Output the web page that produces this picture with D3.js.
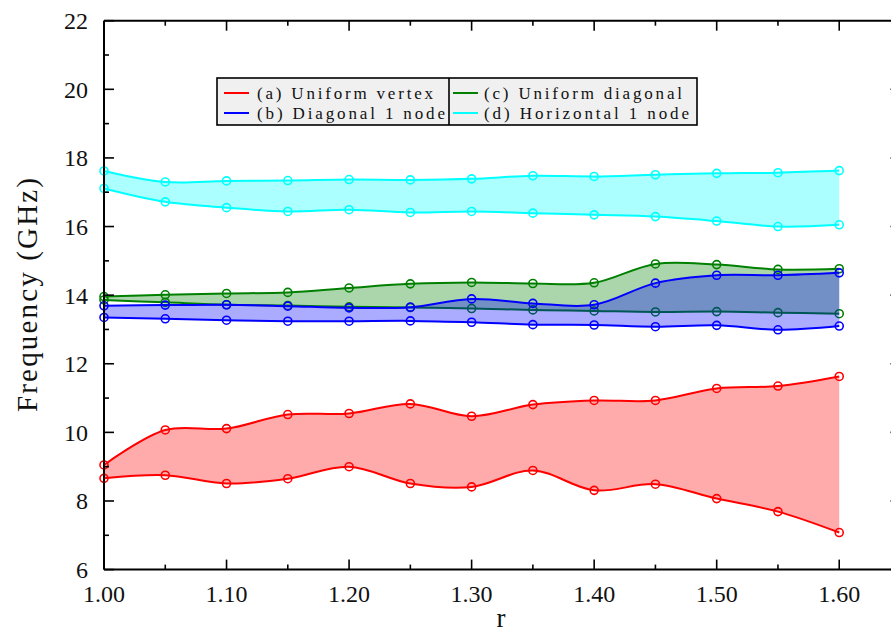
<!DOCTYPE html>
<html><head><meta charset="utf-8">
<script src="https://cdn.jsdelivr.net/npm/d3@7"></script>
<style>body{margin:0;background:#fff;overflow:hidden}svg{display:block}</style>
</head><body>
<script>
const rValues = [1.00,1.05,1.10,1.15,1.20,1.25,1.30,1.35,1.40,1.45,1.50,1.55,1.60];
const aUpper = [9.05,10.07,10.11,10.52,10.55,10.83,10.47,10.81,10.93,10.93,11.28,11.35,11.63];
const aLower = [8.66,8.75,8.51,8.65,9.00,8.51,8.41,8.89,8.31,8.49,8.07,7.69,7.08];
const cUpper = [13.96,14.01,14.05,14.08,14.21,14.33,14.37,14.34,14.36,14.91,14.89,14.75,14.77];
const cLower = [13.86,13.79,13.72,13.70,13.66,13.64,13.61,13.57,13.54,13.51,13.52,13.49,13.46];
const bUpper = [13.69,13.71,13.72,13.68,13.63,13.65,13.89,13.76,13.72,14.35,14.58,14.58,14.65];
const bLower = [13.35,13.31,13.27,13.24,13.24,13.25,13.21,13.14,13.13,13.08,13.12,12.99,13.10];
const dUpper = [17.62,17.30,17.33,17.34,17.37,17.36,17.39,17.48,17.46,17.51,17.55,17.57,17.63];
const dLower = [17.11,16.72,16.55,16.44,16.49,16.41,16.44,16.39,16.34,16.29,16.16,16.00,16.05];
const seriesNames = ["(a) Uniform vertex","(b) Diagonal 1 node","(c) Uniform diagonal","(d) Horizontal 1 node"];
const seriesColors = ["#ff0000","#0000ff","#008000","#00ffff"];
const yTicks = [6,8,10,12,14,16,18,20,22];
const xTicks = [1.00,1.10,1.20,1.30,1.40,1.50,1.60];

const W = 891, H = 632;
const svg = d3.select("body").append("svg").attr("width",W).attr("height",H);
const font = "'Liberation Serif', 'Times New Roman', serif";
const x = d3.scaleLinear().domain([1.0,1.65]).range([104,900.5]);
const y = d3.scaleLinear().domain([6,22]).range([569.6,20.7]);

const bands = [
  {u:aUpper,l:aLower,c:seriesColors[0]},
  {u:cUpper,l:cLower,c:seriesColors[2]},
  {u:bUpper,l:bLower,c:seriesColors[1]},
  {u:dUpper,l:dLower,c:seriesColors[3]}
];
const curve = d3.curveCatmullRom.alpha(0.5);
const area = d3.area().x((d,i)=>x(rValues[i])).y0(d=>y(d[1])).y1(d=>y(d[0])).curve(curve);
const line = d3.line().x((d,i)=>x(rValues[i])).y(d=>y(d)).curve(curve);

const plot = svg.append("g");
bands.forEach(b=>{
  const pts = b.u.map((v,i)=>[v,b.l[i]]);
  plot.append("path").attr("d",area(pts)).attr("fill",b.c).attr("fill-opacity",0.33).attr("stroke","none");
  [b.u,b.l].forEach(arr=>{
    plot.append("path").attr("d",line(arr)).attr("fill","none").attr("stroke",b.c).attr("stroke-width",2);
    plot.selectAll(null).data(arr).enter().append("circle")
      .attr("cx",(d,i)=>x(rValues[i])).attr("cy",d=>y(d)).attr("r",4)
      .attr("fill","none").attr("stroke",b.c).attr("stroke-width",1.6);
  });
});

// axes
const axG = svg.append("g").attr("stroke","#000").attr("stroke-width",2);
axG.append("line").attr("x1",104).attr("x2",104).attr("y1",y(22)).attr("y2",y(6));
axG.append("line").attr("x1",104).attr("x2",x(1.65)).attr("y1",y(6)).attr("y2",y(6));
axG.append("line").attr("x1",104).attr("x2",x(1.65)).attr("y1",y(22)).attr("y2",y(22));
axG.append("line").attr("x1",x(1.65)).attr("x2",x(1.65)).attr("y1",y(22)).attr("y2",y(6));

const yMinor = d3.range(7,22,2);
const tk = svg.append("g").attr("stroke","#000").attr("stroke-width",1.6);
yTicks.forEach(v=>{
  tk.append("line").attr("x1",104).attr("x2",114).attr("y1",y(v)).attr("y2",y(v));
  tk.append("line").attr("x1",x(1.65)).attr("x2",x(1.65)-10).attr("y1",y(v)).attr("y2",y(v));
});
yMinor.forEach(v=>{
  tk.append("line").attr("x1",104).attr("x2",109).attr("y1",y(v)).attr("y2",y(v));
  tk.append("line").attr("x1",x(1.65)).attr("x2",x(1.65)-5).attr("y1",y(v)).attr("y2",y(v));
});
const xMinor = [1.05,1.15,1.25,1.35,1.45,1.55];
xTicks.forEach(v=>{
  tk.append("line").attr("x1",x(v)).attr("x2",x(v)).attr("y1",y(6)).attr("y2",y(6)-10);
  tk.append("line").attr("x1",x(v)).attr("x2",x(v)).attr("y1",y(22)).attr("y2",y(22)+10);
});
xMinor.forEach(v=>{
  tk.append("line").attr("x1",x(v)).attr("x2",x(v)).attr("y1",y(6)).attr("y2",y(6)-5);
  tk.append("line").attr("x1",x(v)).attr("x2",x(v)).attr("y1",y(22)).attr("y2",y(22)+5);
});

svg.append("g").selectAll("text").data(yTicks).enter().append("text")
  .attr("x",88).attr("y",d=>y(d)).attr("dy","0.35em").attr("text-anchor","end")
  .attr("font-family",font).attr("font-size",24).attr("fill","#111").text(d=>d);
svg.append("g").selectAll("text").data(xTicks).enter().append("text")
  .attr("x",d=>x(d)).attr("y",602).attr("text-anchor","middle")
  .attr("font-family",font).attr("font-size",24).attr("fill","#111").text(d=>d.toFixed(2));
svg.append("text").attr("x",501).attr("y",627).attr("text-anchor","middle")
  .attr("font-family",font).attr("font-size",27).attr("fill","#111").text("r");
svg.append("text").attr("transform","translate(37,295) rotate(-90)").attr("text-anchor","middle")
  .attr("font-family",font).attr("font-size",29).attr("fill","#111")
  .attr("textLength",234).attr("lengthAdjust","spacing").text("Frequency (GHz)");

// legend
const lg = svg.append("g");
lg.append("rect").attr("x",217).attr("y",78).attr("width",480).attr("height",47)
  .attr("fill","#f0f0f0").attr("stroke","#000").attr("stroke-width",1.6);
lg.append("line").attr("x1",449).attr("x2",449).attr("y1",78).attr("y2",125).attr("stroke","#000").attr("stroke-width",1.6);
const legItems = [
  {n:seriesNames[0],c:seriesColors[0],lx:224,tx:257,y:93,w:176},
  {n:seriesNames[1],c:seriesColors[1],lx:224,tx:257,y:113,w:188},
  {n:seriesNames[2],c:seriesColors[2],lx:453,tx:484,y:93,w:198},
  {n:seriesNames[3],c:seriesColors[3],lx:453,tx:484,y:113,w:205}
];
legItems.forEach(it=>{
  lg.append("line").attr("x1",it.lx).attr("x2",it.lx+25).attr("y1",it.y).attr("y2",it.y)
    .attr("stroke",it.c).attr("stroke-width",2);
  lg.append("text").attr("x",it.tx).attr("y",it.y).attr("dy","0.33em")
    .attr("font-family",font).attr("font-size",17).attr("fill","#111")
    .attr("textLength",it.w).attr("lengthAdjust","spacing").text(it.n);
});
</script>
</body></html>
